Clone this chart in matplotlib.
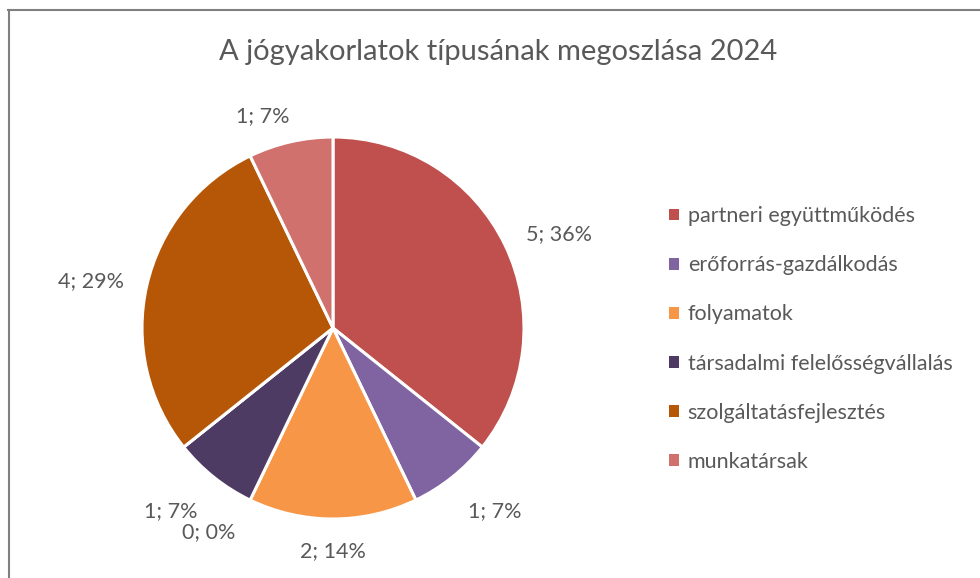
import matplotlib
matplotlib.use("Agg")
import matplotlib.pyplot as plt
import numpy as np

title = "A jógyakorlatok típusának megoszlása 2024"
categories = ["partneri együttműködés", "erőforrás-gazdálkodás", "folyamatok",
              "társadalmi felelősségvállalás", "", "szolgáltatásfejlesztés", "munkatársak"]
values = [5, 1, 2, 1, 0, 4, 1]
colors = ["#C0504D", "#8064A2", "#F79646", "#4E3B63", "#4BACC6", "#B65708", "#D0716E"]

# label placement style (distance in radii, extra angle offset in degrees)
label_dist = [1.28, 1.28, 1.17, 1.28, 1.25, 1.29, 1.17]
label_ang = [-3, 3, 0, -3, 20, 2, 5.5]

plt.rcParams['font.family'] = ['Lato', 'DejaVu Sans']
txt_color = "#595959"

fig = plt.figure(figsize=(9.8, 5.78), dpi=100)
fig.patch.set_facecolor("white")

# frame lines (top and left)
fig.add_artist(plt.Line2D([8/980, 1], [1 - 9.5/578, 1 - 9.5/578], color="#7f7f7f", lw=1.5, transform=fig.transFigure))
fig.add_artist(plt.Line2D([8.5/980, 8.5/980], [0, 1 - 9.5/578], color="#7f7f7f", lw=1.5, transform=fig.transFigure))

ax = fig.add_axes([333/980 - 191/980, 1 - 328/578 - 191/578, 382/980, 382/578])
wedges, _ = ax.pie(values, colors=colors, startangle=90, counterclock=False, radius=1,
                   wedgeprops=dict(edgecolor="white", linewidth=2.2))
ax.set_xlim(-1, 1)
ax.set_ylim(-1, 1)
ax.set_aspect("equal")
ax.axis("off")

total = sum(values)
for i, (w, v) in enumerate(zip(wedges, values)):
    mid = (w.theta1 + w.theta2) / 2 + label_ang[i]
    r = label_dist[i]
    x, y = r * np.cos(np.radians(mid)), r * np.sin(np.radians(mid))
    pct = round(100 * v / total)
    ax.text(x, y, f"{v}; {pct}%", ha="center", va="center", fontsize=15.5,
            color=txt_color, clip_on=False)

fig.text(498/980, 1 - 52/578, title, ha="center", va="center", fontsize=21, color=txt_color)

handles = [w for w, c in zip(wedges, categories) if c]
labels = [c for c in categories if c]
leg = fig.legend(handles, labels, loc="center left", bbox_to_anchor=(650/980, 1 - 339/578),
                 frameon=False, fontsize=15.5, handlelength=0.45, handleheight=0.45,
                 handletextpad=0.4, labelspacing=1.35, labelcolor=txt_color)
for h in leg.legend_handles:
    h.set_edgecolor("none")

fig.savefig("out.png", dpi=100, facecolor="white")
